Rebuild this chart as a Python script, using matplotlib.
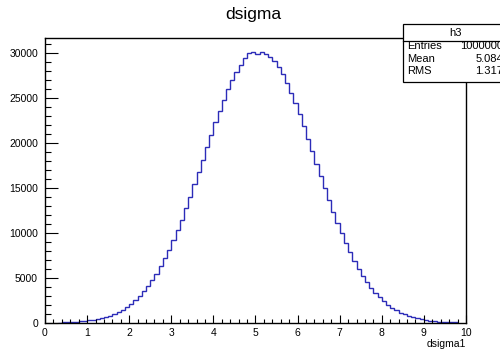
import numpy as np
import matplotlib.pyplot as plt
from matplotlib.patches import Rectangle
from matplotlib.lines import Line2D

plt.rcParams['font.family'] = ['Liberation Sans', 'DejaVu Sans']

# histogram h3: bins of width 0.1 starting at x = 0.3
x_lo = 0.3
bin_w = 0.1
counts = [47, 62, 81, 105, 135, 173, 220, 278, 350, 438,
          544, 673, 828, 1012, 1230, 1486, 1786, 2131, 2534, 2991,
          3511, 4099, 4759, 5489, 6300, 7185, 8148, 9190, 10305, 11486,
          12731, 14030, 15372, 16744, 18135, 19528, 20906, 22257, 23554, 24786,
          25934, 26976, 27900, 28688, 29450, 30000, 30030, 29900, 30124, 29820,
          29500, 29100, 28451, 27615, 26652, 25577, 24402, 23145, 21827, 20467,
          19080, 17689, 16302, 14936, 13609, 12328, 11098, 9941, 8854, 7836,
          6894, 6031, 5249, 4540, 3904, 3335, 2838, 2399, 2017, 1684,
          1399, 1154, 948, 775, 630, 509, 406, 324, 258, 203,
          160, 124, 97, 74, 56]

title = 'dsigma'
xlabel = 'dsigma1'
stats_name = 'h3'
stats_rows = [('Entries', '1000000'), ('Mean', '5.084'), ('RMS', '1.317')]

W, H = 500, 349
fig = plt.figure(figsize=(W / 100, H / 100), dpi=100)
ax = fig.add_axes([45 / W, 26 / H, 421 / W, 285 / H])

edges = x_lo + bin_w * np.arange(len(counts) + 1)
ax.stairs(counts, edges, color='#2c2cb8', linewidth=1.0, baseline=None)

ax.set_xlim(0, 10)
ax.set_ylim(0, 1.05 * max(counts))
ax.set_xticks(np.arange(0, 11, 1))
ax.set_xticks(np.arange(0, 10.01, 0.2), minor=True)
ax.set_yticks(np.arange(0, 30001, 5000))
ax.set_yticks(np.arange(0, 31001, 1000), minor=True)
ax.set_xticklabels([str(v) for v in range(11)])

for s in ax.spines.values():
    s.set_linewidth(1.0)
    s.set_color('black')

ax.tick_params(axis='x', which='major', direction='in', length=6.1, width=0.8,
               labelsize=7.5, pad=3.5)
ax.tick_params(axis='x', which='minor', direction='in', length=3.1, width=0.8)
ax.tick_params(axis='y', which='major', direction='in', length=9.1, width=0.8,
               labelsize=7.5, pad=5)
ax.tick_params(axis='y', which='minor', direction='in', length=4.6, width=0.8)
ax.tick_params(top=False, right=False, which='both')

fig.text(253 / W, 1 - 14 / H, title, ha='center', va='center', fontsize=12.5)
fig.text(466 / W, 1 - 344 / H, xlabel, ha='right', va='center', fontsize=7.5)

# stats box (runs off the right edge like the original)
bx0, by0, by1, bsep = 403, 24, 82, 41
fig.patches.append(Rectangle((bx0 / W, 1 - by1 / H), (W + 20 - bx0) / W,
                             (by1 - by0) / H, transform=fig.transFigure,
                             facecolor='white', edgecolor='black',
                             linewidth=0.9, zorder=5))
fig.lines.append(Line2D([bx0 / W, 1.05], [1 - bsep / H, 1 - bsep / H],
                        transform=fig.transFigure, color='black',
                        linewidth=0.9, zorder=6))
fig.text(455 / W, 1 - 32.5 / H, stats_name, ha='center', va='center',
         fontsize=8, zorder=7)
row_y = [46, 59, 71.5]
for (lab, val), yy in zip(stats_rows, row_y):
    fig.text(407 / W, 1 - yy / H, lab, ha='left', va='center',
             fontsize=8, zorder=7)
    fig.text(503 / W, 1 - yy / H, val, ha='right', va='center',
             fontsize=8, zorder=7)

fig.savefig('out.png', dpi=100)
